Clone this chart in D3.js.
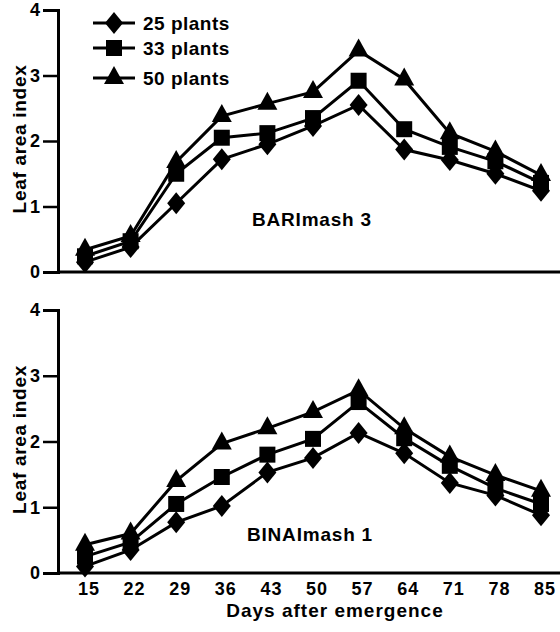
<!DOCTYPE html>
<html>
<head>
<meta charset="utf-8">
<script src="https://cdn.jsdelivr.net/npm/d3@7"></script>
<style>
  body { margin: 0; background: #fff; }
  text { font-family: "Liberation Sans", Arial, sans-serif; font-weight: bold; fill: #000; }
</style>
</head>
<body>
<div id="chart"></div>
<script>
// Data
var days = [15, 22, 29, 36, 43, 50, 57, 64, 71, 78, 85];
var seriesNames = ["25 plants", "33 plants", "50 plants"];
var markers = ["diamond", "square", "triangle"];

var bari25 = [0.15, 0.38, 1.05, 1.72, 1.95, 2.23, 2.55, 1.87, 1.71, 1.5, 1.24];
var bari33 = [0.24, 0.47, 1.5, 2.05, 2.12, 2.35, 2.92, 2.18, 1.91, 1.69, 1.36];
var bari50 = [0.34, 0.55, 1.68, 2.38, 2.57, 2.75, 3.38, 2.94, 2.12, 1.84, 1.48];

var bina25 = [0.1, 0.35, 0.77, 1.02, 1.53, 1.75, 2.13, 1.82, 1.37, 1.18, 0.88];
var bina33 = [0.25, 0.47, 1.05, 1.46, 1.8, 2.04, 2.6, 2.05, 1.63, 1.29, 1.05];
var bina50 = [0.43, 0.6, 1.4, 1.97, 2.2, 2.45, 2.78, 2.2, 1.77, 1.49, 1.25];

var yTicks = [0, 1, 2, 3, 4];

var svgWidth = 560;
var svgHeight = 632;

var svg = d3.select("#chart")
  .append("svg")
  .attr("width", svgWidth)
  .attr("height", svgHeight);

var xScale = d3.scalePoint()
  .domain(days)
  .range([85, 541]);

// custom marker shapes (diamond is taller than wide, as in the print)
var shapes = {
  diamond: { draw: function(c) { c.moveTo(0, -11); c.lineTo(9, 0); c.lineTo(0, 11); c.lineTo(-9, 0); c.closePath(); } },
  square: { draw: function(c) { c.rect(-8, -8, 16, 16); } },
  triangle: { draw: function(c) { c.moveTo(0, -12); c.lineTo(10, 6); c.lineTo(-10, 6); c.closePath(); } }
};
var symbolFor = {};
markers.forEach(function(m) { symbolFor[m] = d3.symbol().type(shapes[m]); });

function drawPanel(top, bottom, seriesList, label, labelX, labelY) {
  var yScale = d3.scaleLinear().domain([0, 4]).range([bottom, top]);

  // x baseline
  svg.append("line")
    .attr("x1", 57).attr("x2", svgWidth)
    .attr("y1", bottom).attr("y2", bottom)
    .attr("stroke", "#000").attr("stroke-width", 3);

  // y axis
  var yAxis = svg.append("g")
    .attr("transform", "translate(58,0)")
    .call(d3.axisLeft(yScale).tickValues(yTicks).tickSize(15).tickPadding(3).tickFormat(d3.format("d")));
  yAxis.select(".domain").attr("stroke-width", 3);
  yAxis.selectAll(".tick line").attr("stroke-width", 2.5);
  yAxis.selectAll("text")
    .attr("font-size", 18)
    .attr("font-family", "Liberation Sans, Arial, sans-serif")
    .attr("font-weight", "bold");

  svg.append("text")
    .attr("transform", "translate(26," + ((top + bottom) / 2 - 2) + ") rotate(-90)")
    .attr("text-anchor", "middle")
    .attr("font-size", 19)
    .attr("letter-spacing", 0.7)
    .text("Leaf area index");

  var line = d3.line()
    .x(function(d, i) { return xScale(days[i]); })
    .y(function(d) { return yScale(d); });

  seriesList.forEach(function(vals, s) {
    svg.append("path")
      .datum(vals)
      .attr("d", line)
      .attr("fill", "none")
      .attr("stroke", "#000")
      .attr("stroke-width", 3);

    svg.selectAll(null)
      .data(vals)
      .enter()
      .append("path")
      .attr("d", symbolFor[markers[s]])
      .attr("transform", function(d, i) {
        return "translate(" + xScale(days[i]) + "," + yScale(d) + ")";
      })
      .attr("fill", "#000");
  });

  svg.append("text")
    .attr("x", labelX).attr("y", labelY)
    .attr("text-anchor", "middle")
    .attr("font-size", 19)
    .attr("letter-spacing", 0.8)
    .text(label);
}

drawPanel(10, 272, [bari25, bari33, bari50], "BARImash 3", 312, 226);
drawPanel(310, 573, [bina25, bina33, bina50], "BINAImash 1", 310, 541);

// x tick labels
svg.selectAll(".xlab")
  .data(days)
  .enter()
  .append("text")
  .attr("class", "xlab")
  .attr("x", function(d) { return xScale(d) + 4; })
  .attr("y", 595)
  .attr("text-anchor", "middle")
  .attr("font-size", 18)
  .attr("letter-spacing", 1)
  .text(function(d) { return d; });

svg.append("text")
  .attr("x", 335).attr("y", 617)
  .attr("text-anchor", "middle")
  .attr("font-size", 19)
  .attr("letter-spacing", 1)
  .text("Days after emergence");

// legend
var legendY = [23, 48, 78];
seriesNames.forEach(function(name, s) {
  var g = svg.append("g").attr("transform", "translate(0," + legendY[s] + ")");
  g.append("line")
    .attr("x1", 93).attr("x2", 135)
    .attr("stroke", "#000").attr("stroke-width", 3);
  g.append("path")
    .attr("d", symbolFor[markers[s]])
    .attr("transform", "translate(114,0)")
    .attr("fill", "#000");
  g.append("text")
    .attr("x", 143).attr("y", 7)
    .attr("font-size", 19)
    .attr("letter-spacing", 0.5)
    .text(name);
});
</script>
</body>
</html>
